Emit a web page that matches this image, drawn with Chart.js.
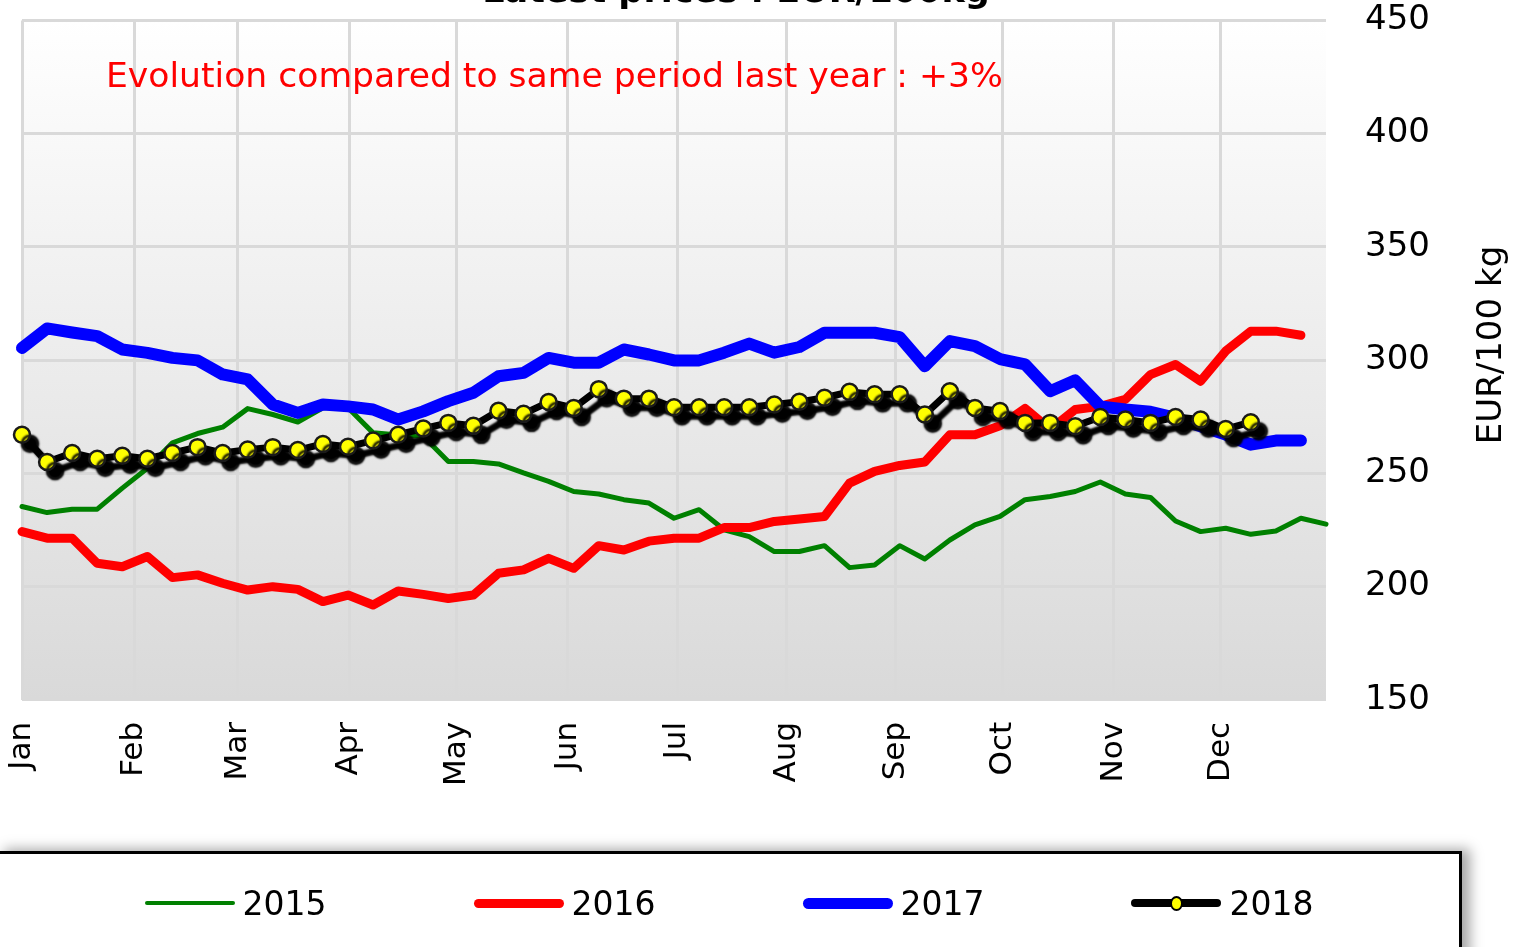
<!DOCTYPE html>
<html>
<head>
<meta charset="utf-8">
<title>Latest prices</title>
<script src="https://cdn.jsdelivr.net/npm/chart.js@4.4.1/dist/chart.umd.min.js"></script>
<style>
  body { margin: 0; background: #fff; width: 1526px; height: 947px; overflow: hidden; position: relative; font-family: "DejaVu Sans", Verdana, sans-serif }
  #chartBox { position: absolute; left: 0; top: 0; width: 1526px; height: 850px }
  #legend { position: absolute; left: -4px; top: 851px; width: 1466px; height: 150px; box-sizing: border-box;
    border: 3px solid #000; background: #fff; box-shadow: 8px -2px 12px rgba(0,0,0,.35);
    display: flex; justify-content: center; align-items: flex-start; gap: 147px; padding-top: 29px }
  .item { display: flex; align-items: center; height: 40px; font-size: 33px; color: #000 }
  .swatch { position: relative; width: 90px; border-radius: 6px; margin-right: 8px }
  .swatch .dot { position: absolute; left: 50%; top: 50%; width: 9px; height: 11px; margin: -7px 0 0 -6px; border-radius: 50%; background: #ffff00; border: 2px solid #000 }
</style>
</head>
<body>
<div id="chartBox"><canvas id="priceChart" width="1526" height="850"></canvas></div>
<div id="legend"></div>
<script>
/* ====== WEEKLY PRICES, EUR/100kg ====== */

const chartTitle = 'Latest prices : EUR/100kg'
const noteText = 'Evolution compared to same period last year : +3%'
const yTitle = 'EUR/100 kg'

const monthLabels = ['Jan', 'Feb', 'Mar', 'Apr', 'May', 'Jun', 'Jul', 'Aug', 'Sep', 'Oct', 'Nov', 'Dec']
// month starts, expressed in week numbers
const monthWeeks = [1, 5.47, 9.61, 14.04, 18.34, 22.77, 27.12, 31.5, 35.85, 40.11, 44.54, 48.81]

const seriesNames = ['2015', '2016', '2017', '2018']

const price2015 = [235.4, 232.7, 234.2, 234.2, 243.5, 252.3, 263.5, 267.6, 270.4, 278.6, 276.0, 272.7, 279.0,
  279.0, 267.9, 267.0, 266.4, 255.3, 255.3, 254.2, 250.2, 246.5, 242.0, 240.9, 238.4, 236.9, 230.2,
  234.0, 225.1, 222.1, 215.5, 215.5, 218.1, 208.4, 209.6, 218.1, 212.2, 220.6, 227.3, 231.0,
  238.4, 239.8, 242.0, 246.2, 240.9, 239.4, 229.0, 224.3, 225.8, 223.1, 224.6, 230.2, 227.6]

const price2016 = [224.3, 221.4, 221.4, 210.3, 208.8, 213.3, 204.0, 205.2, 201.5, 198.5, 200.0, 198.8, 193.4,
  196.3, 191.9, 198.1, 196.6, 194.8, 196.3, 205.9, 207.4, 212.5, 208.1, 218.1, 216.2, 220.1, 221.4,
  221.4, 226.1, 226.1, 228.8, 229.9, 231.0, 245.7, 250.9, 253.5, 255.0, 267.1, 267.1, 271.0,
  278.7, 269.4, 278.2, 279.6, 282.7, 293.6, 298.1, 290.7, 304.0, 312.8, 312.8, 311.0]

const price2017 = [305.4, 314.0, 312.2, 310.6, 304.7, 303.2, 301.0, 299.9, 293.7, 291.5, 280.4, 276.7, 280.4,
  279.6, 278.2, 273.8, 277.4, 281.9, 285.6, 292.9, 294.4, 301.0, 298.9, 298.9, 304.7, 302.5, 299.9,
  299.9, 303.3, 307.3, 303.3, 305.8, 312.1, 312.1, 312.1, 310.2, 297.3, 308.4, 306.2, 300.5,
  298.1, 286.3, 291.1, 279.6, 278.2, 277.2, 274.5, 270.8, 267.1, 262.7, 264.5, 264.5]

const price2018 = [267.1, 255.0, 259.0, 256.5, 257.8, 256.5, 259.0, 261.6, 259.0, 260.5, 261.6, 260.3, 263.0,
  261.8, 264.5, 267.1, 269.8, 272.3, 271.0, 277.7, 276.3, 281.5, 278.9, 287.2, 283.0, 283.0, 279.2,
  279.2, 279.2, 279.2, 280.4, 281.6, 283.4, 286.0, 284.9, 284.9, 276.0, 286.3, 278.9, 277.5,
  272.3, 272.3, 270.8, 274.9, 273.8, 272.3, 274.9, 273.8, 269.6, 272.6]

const seriesValues = [price2015, price2016, price2017, price2018]
const seriesColors = ['#008000', '#ff0000', '#0000ff', '#000000']
const seriesWidths = [5, 9, 12, 7]
const legendWidths = [4, 9, 11, 8]

const FONT = '"DejaVu Sans", Verdana, sans-serif'

const toPoints = arr => arr.map((v, i) => ({ x: i + 1, y: v }))

const datasets = seriesNames.map((name, i) => ({
  label: name,
  data: toPoints(seriesValues[i]),
  borderColor: seriesColors[i],
  borderWidth: seriesWidths[i],
  borderJoinStyle: 'round',
  borderCapStyle: 'round',
  tension: 0,
  clip: false,
  pointRadius: 0,
  order: seriesNames.length - 1 - i
}))
// 2018 gets the yellow markers
Object.assign(datasets[3], { pointRadius: 8, pointBackgroundColor: '#ffff00', pointBorderColor: '#1a1a1a', pointBorderWidth: 2.5 })

const decor = {
  id: 'decor',
  beforeDraw(chart) {
    const { ctx, chartArea: a } = chart
    const g = ctx.createLinearGradient(0, a.top, 0, a.bottom)
    g.addColorStop(0, '#ffffff'); g.addColorStop(1, '#d9d9d9')
    ctx.save(); ctx.fillStyle = g; ctx.fillRect(a.left, a.top, a.right - a.left, a.bottom - a.top); ctx.restore()
  },
  beforeDatasetDraw(chart, args) {
    if (args.index !== 3) return
    const ctx = chart.ctx
    ctx.save()
    ctx.shadowColor = '#000'; ctx.shadowOffsetX = 8; ctx.shadowOffsetY = 9; ctx.shadowBlur = 2
  },
  afterDatasetDraw(chart, args) { if (args.index === 3) chart.ctx.restore() },
  afterDraw(chart) {
    const ctx = chart.ctx
    ctx.save()
    ctx.fillStyle = '#000'; ctx.font = 'bold 35px ' + FONT; ctx.textAlign = 'center'; ctx.textBaseline = 'alphabetic'
    ctx.fillText(chartTitle, 736, 2)
    ctx.fillStyle = '#ff0000'; ctx.font = '34.6px ' + FONT; ctx.textAlign = 'left'; ctx.textBaseline = 'middle'
    ctx.fillText(noteText, 106, 78)
    ctx.translate(1492, 345); ctx.rotate(-Math.PI / 2)
    ctx.fillStyle = '#000'; ctx.font = '34px ' + FONT; ctx.textAlign = 'center'
    ctx.fillText(yTitle, 0, 0)
    ctx.restore()
  }
}

const chart = new Chart(document.getElementById('priceChart'), {
  type: 'line',
  data: { datasets },
  plugins: [decor],
  options: {
    responsive: false, animation: false,
    layout: { padding: { left: 22, right: 96, top: 20, bottom: 42 } },
    plugins: { legend: { display: false }, tooltip: { enabled: false } },
    scales: {
      x: {
        type: 'linear', min: 1, max: 53,
        afterBuildTicks: s => { s.ticks = monthWeeks.map(v => ({ value: v })) },
        ticks: { autoSkip: false, minRotation: 90, maxRotation: 90, padding: 22, color: '#000',
          font: { family: FONT, size: 31 }, callback: (v, i) => monthLabels[i] },
        grid: { color: '#d9d9d9', lineWidth: 3, drawTicks: false },
        border: { display: false }
      },
      y: {
        position: 'right', min: 150, max: 450,
        afterFit: s => { s.width = 104 },
        ticks: { stepSize: 50, padding: 0, crossAlign: 'far', color: '#000', font: { family: FONT, size: 34 } },
        grid: { color: '#d9d9d9', lineWidth: 3, drawTicks: false },
        border: { display: false }
      }
    }
  }
})

// legend box, built from the same series
document.getElementById('legend').innerHTML = seriesNames.map((name, i) => `
  <div class="item"><span class="swatch" style="height:${legendWidths[i]}px;background:${seriesColors[i]}">${i === 3 ? '<span class="dot"></span>' : ''}</span>${name}</div>`).join('')
</script>
</body>
</html>
